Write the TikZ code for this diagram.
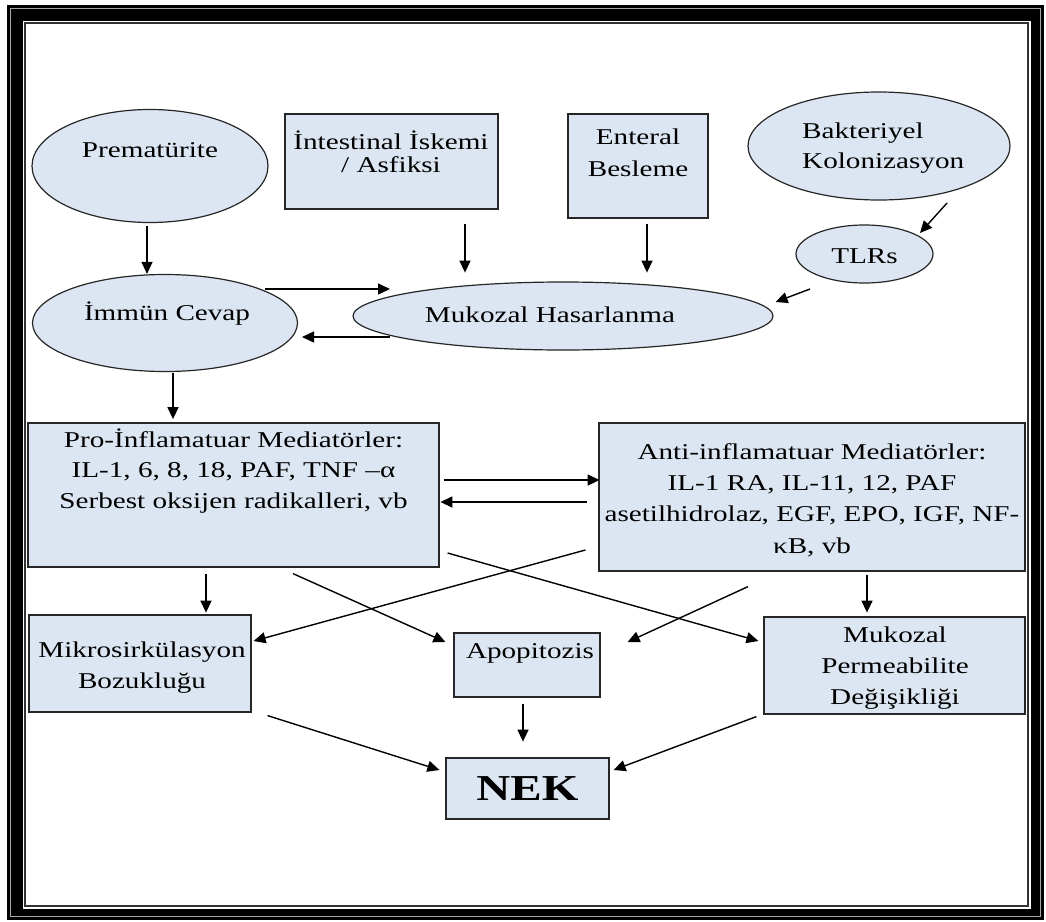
\documentclass[tikz,border=0pt]{standalone}
\usepackage{fontspec}
\setmainfont{Liberation Serif}[FakeStretch=1.29]
\usetikzlibrary{shapes.geometric,arrows.meta}
\definecolor{boxfill}{RGB}{220,230,242}
\begin{document}
\begin{tikzpicture}[x=1pt,y=-1pt,
  shp/.style={draw=black!85, line width=1.2pt, fill=boxfill, inner sep=0pt},
  box/.style={shp, rectangle},
  ell/.style={shp, ellipse},
  txt/.style={font=\fontsize{22.6}{31}\selectfont, inner sep=0pt, anchor=base, align=center, text=black},
  arr/.style={-{Triangle[length=12pt,width=11pt]}, line width=1.4pt, black}]
\useasboundingbox (0,0) rectangle (1046,921);
% frame
\fill[black] (7,5) rectangle (1044,920);
\draw[black!35, line width=1pt] (10.5,8.5) rectangle (1040.5,916.5);
\fill[white] (22.5,20.5) rectangle (1030.5,908.5);
\draw[black!80, line width=1.5pt] (24.8,22.8) rectangle (1028.2,906.2);

% shapes
\node[ell, minimum width=236pt, minimum height=113pt] (prem) at (150,166) {};
\node[box, minimum width=213pt, minimum height=95pt] (isk) at (391.5,161.5) {};
\node[box, minimum width=140pt, minimum height=104pt] (ent) at (638,166) {};
\node[ell, minimum width=262pt, minimum height=108pt] (bakt) at (879,146) {};
\node[ell, minimum width=137pt, minimum height=58pt] (tlr) at (864.5,254) {};
\node[ell, minimum width=265pt, minimum height=97pt] (immun) at (165,323) {};
\node[ell, minimum width=420pt, minimum height=68pt] (muk) at (563,316) {};
\node[box, minimum width=411pt, minimum height=144pt] (pro) at (233.5,495) {};
\node[box, minimum width=426pt, minimum height=148pt] (anti) at (812,497) {};
\node[box, minimum width=222pt, minimum height=97pt] (mikro) at (140,663.5) {};
\node[box, minimum width=146pt, minimum height=64pt] (apop) at (527,665) {};
\node[box, minimum width=261pt, minimum height=97pt] (mperm) at (894.5,665.5) {};
\node[box, minimum width=163pt, minimum height=61pt] (nek) at (527.5,788.5) {};

% texts (for several lines, the base anchor is on the last line)
\node[txt] (premT) at (150,157.5) {Prematürite};
\node[txt, font=\fontsize{22.6}{22.5}\selectfont] (iskT) at (391,172) {İntestinal İskemi\\/ Asfiksi};
\node[txt, font=\fontsize{22.6}{32}\selectfont] (entT) at (638,176) {Enteral\\Besleme};
\node[txt, align=left, anchor=base west, font=\fontsize{22.6}{30}\selectfont] (baktT) at (802,168) {Bakteriyel\\Kolonizasyon};
\node[txt] (tlrT) at (864.5,263) {TLRs};
\node[txt] (immunT) at (167,320) {İmmün Cevap};
\node[txt] (mukT) at (550,322) {Mukozal Hasarlanma};
\node[txt, font=\fontsize{22.6}{30.5}\selectfont] (proT) at (233.5,508) {Pro-İnflamatuar Mediatörler:\\IL-1, 6, 8, 18, PAF, TNF –α\\Serbest oksijen radikalleri, vb};
\node[txt, font=\fontsize{22.6}{31.3}\selectfont] (antiT) at (812,553) {Anti-inflamatuar Mediatörler:\\IL-1 RA, IL-11, 12, PAF\\asetilhidrolaz, EGF, EPO, IGF, NF-\\κB, vb};
\node[txt] (mikroT) at (142,688) {Mikrosirkülasyon\\Bozukluğu};
\node[txt] (apopT) at (530,658) {Apopitozis};
\node[txt, font=\fontsize{22.6}{31}\selectfont] (mpermT) at (895,704) {Mukozal\\Permeabilite\\Değişikliği};
\node[txt, font=\fontsize{36.5}{40}\selectfont\bfseries] (nekT) at (527.5,800) {NEK};

% connectors
\draw[arr] ([xshift=-3pt,yshift=-2.5pt]prem.south) -- ([xshift=-18pt]immun.north);
\draw[arr] ([xshift=73.5pt,yshift=-14pt]isk.south) -- ++(0,49);
\draw[arr] ([xshift=9pt,yshift=-5pt]ent.south) -- ++(0,49);
\draw[arr] ([xshift=68pt,yshift=-57pt]bakt.center) -- ([xshift=55.5pt,yshift=21pt]tlr.center);
\draw[arr] ([xshift=-54.5pt,yshift=-35pt]tlr.center) -- ([xshift=2pt,yshift=14pt]muk.east);
\draw[arr] ([xshift=100pt,yshift=34pt]immun.center) -- ++(125,0);
\draw[arr] ([xshift=-173pt,yshift=-21pt]muk.center) -- ++(-88,0);
\draw[arr] ([xshift=8pt,yshift=-1pt]immun.south) -- ++(0,46);
\draw[arr] ([xshift=4pt,yshift=15pt]pro.east) -- ++(156,0);
\draw[arr] ([xshift=-11pt,yshift=-5pt]anti.west) -- ++(-147,0);
\draw[arr] ([xshift=-27.5pt,yshift=-6pt]pro.south) -- ++(0,39);
\draw[arr] ([xshift=59.5pt,yshift=-6pt]pro.south) -- ([xshift=-8pt,yshift=23pt]apop.west);
\draw[arr] ([xshift=8pt,yshift=-58pt]pro.east) -- ([xshift=-5pt,yshift=24.5pt]mperm.west);
\draw[arr] ([xshift=-13pt,yshift=-53pt]anti.west) -- ([xshift=2pt,yshift=22.5pt]mikro.east);
\draw[arr] ([xshift=-64pt,yshift=-15pt]anti.south) -- ([xshift=27pt,yshift=23pt]apop.east);
\draw[arr] ([xshift=55pt,yshift=-3pt]anti.south) -- ++(0,38);
\draw[arr] ([xshift=16pt,yshift=-3pt]mikro.south east) -- ([xshift=-6pt,yshift=18.5pt]nek.west);
\draw[arr] ([xshift=-4pt,yshift=-6pt]apop.south) -- ++(0,38);
\draw[arr] ([xshift=-7pt,yshift=-2pt]mperm.south west) -- ([xshift=4pt,yshift=18.5pt]nek.east);
\end{tikzpicture}
\end{document}
